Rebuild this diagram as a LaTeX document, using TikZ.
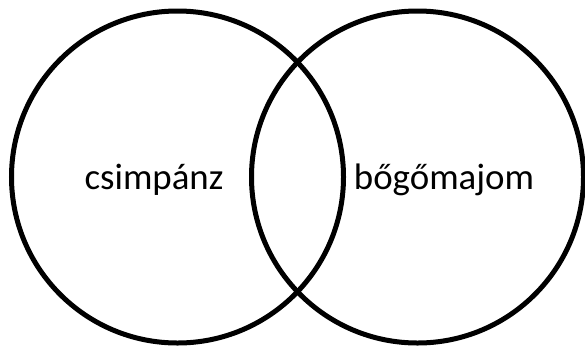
\documentclass[tikz,border=0pt]{standalone}
\usepackage{fontspec}
\setmainfont{Carlito}
\usepackage{tikz}
\usetikzlibrary{positioning}

\begin{document}
\begin{tikzpicture}[x=1bp,y=-1bp]
           \useasboundingbox (0,0) rectangle (585,349);
           \tikzset{ring/.style={draw=black,line width=5bp,circle,minimum size=332bp,inner sep=0pt}}
           \tikzset{monkeytext/.style={anchor=base,inner sep=0pt,font=\fontsize{37}{44}\selectfont}}
           \node[ring] (chimp) at (177.5,177) {};
           \node[ring] (howler) at (417.5,177) {};
           \node[monkeytext] (chimpname) at (154,189) {csimpánz};
           \node[monkeytext] (howlername) at (444,189) {bőgőmajom};
         \end{tikzpicture}
\end{document}
